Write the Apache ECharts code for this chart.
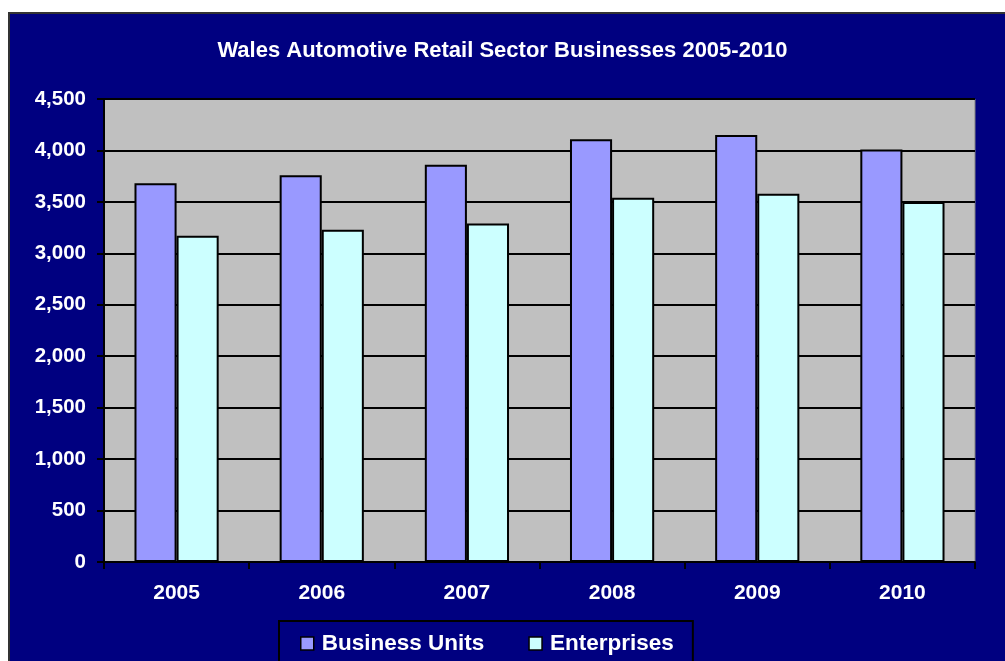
<!DOCTYPE html>
<html>
<head>
<meta charset="utf-8">
<script src="https://cdn.jsdelivr.net/npm/echarts@6/dist/echarts.min.js"></script>
<style>
html,body{margin:0;padding:0;background:#fff;}
#c{width:1005px;height:661px;}
</style>
</head>
<body>
<div id="c"></div>
<script>
const categories = ['2005','2006','2007','2008','2009','2010'];
const businessUnits = [3680, 3760, 3860, 4110, 4150, 4010];
const enterprises = [3170, 3230, 3290, 3540, 3580, 3500];
const titleText = 'Wales Automotive Retail Sector Businesses 2005-2010';

const FONT = "'Liberation Sans', Arial, sans-serif";
const chart = echarts.init(document.getElementById('c'));
chart.setOption({
  backgroundColor: '#ffffff',
  animation: false,
  graphic: [{
    type: 'rect', z: -10,
    shape: {x: 9, y: 13, width: 1010, height: 670},
    style: {fill: '#000080', stroke: '#333333', lineWidth: 2}
  }],
  title: {
    text: titleText, left: 'center', top: 35,
    textStyle: {color: '#fff', fontSize: 22, fontWeight: 'bold', fontFamily: FONT}
  },
  legend: {
    left: 279, top: 621,
    padding: [11, 19, 14, 21],
    backgroundColor: '#000080', borderColor: '#000', borderWidth: 2,
    itemWidth: 13, itemHeight: 13, itemGap: 44,
    icon: 'rect',
    itemStyle: {borderColor: '#000', borderWidth: 1.5},
    textStyle: {color: '#fff', fontSize: 22.5, fontWeight: 'bold', fontFamily: FONT, padding: [0,0,0,3]},
    data: ['Business Units', 'Enterprises']
  },
  grid: {
    left: 104, top: 99, width: 871, height: 463,
    show: true, backgroundColor: '#C0C0C0', borderColor: '#808080', borderWidth: 1
  },
  xAxis: {
    type: 'category', data: categories,
    axisLine: {lineStyle: {color: '#000', width: 2}},
    axisTick: {show: true, length: 7, lineStyle: {color: '#000', width: 2}},
    axisLabel: {color: '#fff', fontSize: 21, fontWeight: 'bold', fontFamily: FONT, margin: 21}
  },
  yAxis: {
    type: 'value', min: 0, max: 4500, interval: 500,
    axisLine: {show: true, lineStyle: {color: '#000', width: 2}},
    axisTick: {show: true, length: 7, lineStyle: {color: '#000', width: 2}},
    splitLine: {lineStyle: {color: '#000', width: 2}},
    axisLabel: {
      color: '#fff', fontSize: 20.5, fontWeight: 'bold', fontFamily: FONT, margin: 18,
      formatter: v => v.toLocaleString('en-US')
    }
  },
  series: [{
    name: 'Business Units', type: 'bar', data: businessUnits,
    barGap: '0%', barCategoryGap: '42%',
    itemStyle: {color: '#9999FF', borderColor: '#000', borderWidth: 2}
  }, {
    name: 'Enterprises', type: 'bar', data: enterprises,
    itemStyle: {color: '#CCFFFF', borderColor: '#000', borderWidth: 2}
  }]
});
</script>
</body>
</html>
